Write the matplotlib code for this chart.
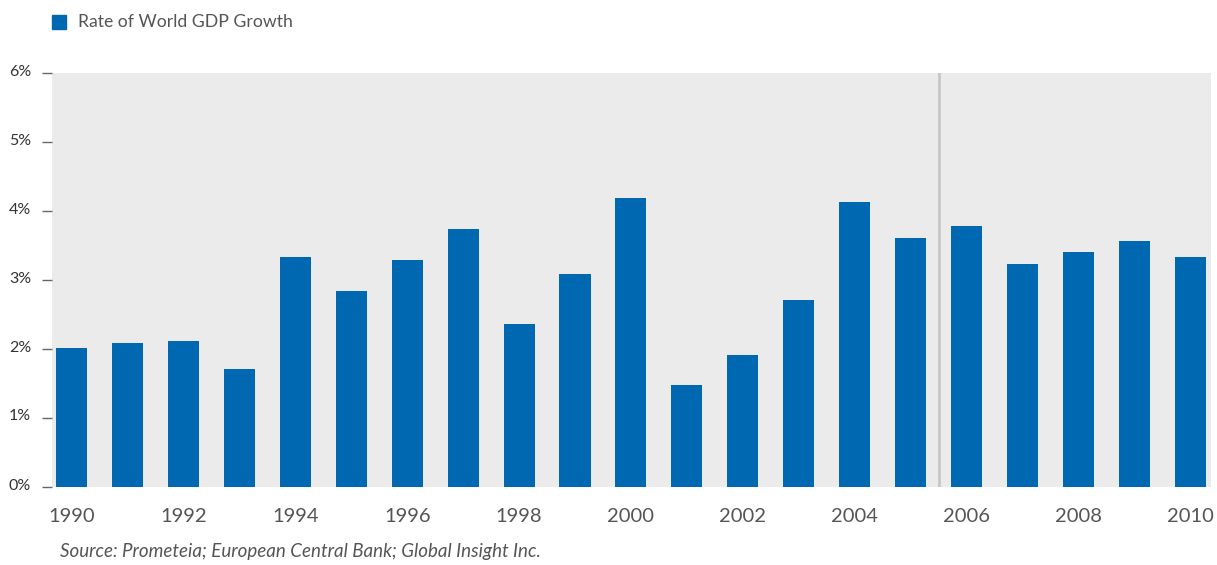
import matplotlib.pyplot as plt
import matplotlib.transforms as mtransforms
from matplotlib.patches import Rectangle

years = list(range(1990, 2011))
growth = [2.01, 2.09, 2.12, 1.71, 3.33, 2.84, 3.29, 3.74, 2.36, 3.09, 4.19,
          1.48, 1.91, 2.71, 4.13, 3.61, 3.78, 3.23, 3.41, 3.57, 3.33]
y_ticks = [0, 1, 2, 3, 4, 5, 6]
y_labels = ['0%', '1%', '2%', '3%', '4%', '5%', '6%']

blue = '#0068b0'
grey_text = '#555555'

plt.rcParams['font.family'] = ['Lato', 'DejaVu Sans']

fig = plt.figure(figsize=(12.17, 5.65), dpi=100)
ax = fig.add_axes([52 / 1217, 78 / 565, 1159 / 1217, 414 / 565])
ax.set_facecolor('#ebebeb')

x = list(range(len(years)))
ax.bar(x, growth, width=0.555, color=blue, zorder=2)
# forecast divider between 2005 and 2006
ax.axvline(15.5, color='#c6c6c6', lw=2, zorder=1)

ax.set_xlim(-0.35, 20.37)
ax.set_ylim(0, 6)
ax.set_yticks(y_ticks)
ax.set_yticklabels(y_labels, fontsize=11.5, color='#333333')
ax.set_xticks(x[::2])
ax.set_xticklabels([str(y) for y in years[::2]], fontsize=14.5, color=grey_text)
ax.tick_params(axis='y', direction='out', length=7, width=1, color='#666666', pad=8)
ax.tick_params(axis='x', length=0, pad=15)
for s in ax.spines.values():
    s.set_visible(False)

# nudge y labels a little above their tick dash
shift = mtransforms.ScaledTranslation(0, 3 / 100, fig.dpi_scale_trans)
for lab in ax.get_yticklabels():
    lab.set_transform(lab.get_transform() + shift)

# legend
fig.patches.append(Rectangle((52 / 1217, 1 - 29 / 565), 14 / 1217, 14 / 565,
                             transform=fig.transFigure, color=blue))
fig.text(78 / 1217, 1 - 22 / 565, 'Rate of World GDP Growth', fontsize=12.7,
         color=grey_text, va='center', ha='left')

fig.text(60 / 1217, 1 - 552 / 565,
         'Source: Prometeia; European Central Bank; Global Insight Inc.',
         fontsize=13.5, style='italic', color=grey_text, va='center', ha='left')

fig.savefig('out.png', dpi=100)
